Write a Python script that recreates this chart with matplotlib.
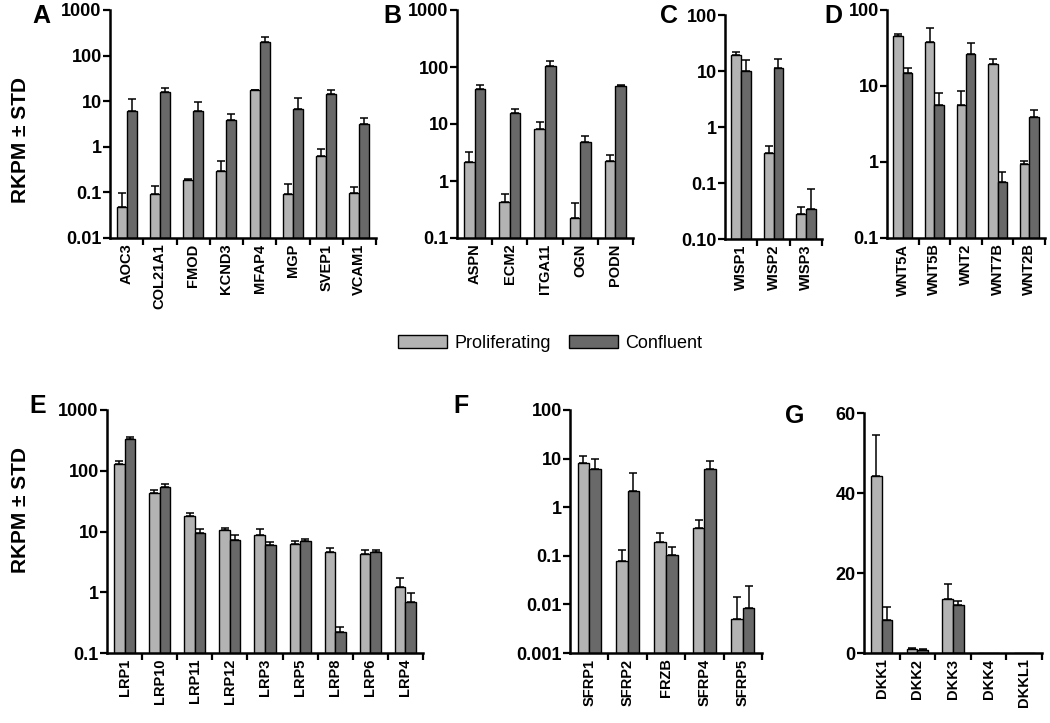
import matplotlib
matplotlib.use('Agg')
import matplotlib.pyplot as plt
from matplotlib.patches import Patch
import numpy as np

plt.rcParams['font.family'] = ['Liberation Sans', 'DejaVu Sans']

W, H = 1050, 723
LIGHT = '#b3b3b3'
DARK = '#696969'

# ---- data (RKPM, mean and upper STD) ----
a_genes = ['AOC3', 'COL21A1', 'FMOD', 'KCND3', 'MFAP4', 'MGP', 'SVEP1', 'VCAM1']
a_prolif = [0.049, 0.093, 0.183, 0.29, 17.5, 0.093, 0.635, 0.097]
a_prolif_std = [0.048, 0.042, 0.017, 0.21, 0.3, 0.062, 0.265, 0.033]
a_confl = [6.25, 15.7, 6.25, 3.9, 203, 6.8, 14.2, 3.2]
a_confl_std = [4.75, 4.2, 3.25, 1.3, 50, 4.8, 3.8, 1.1]

b_genes = ['ASPN', 'ECM2', 'ITGA11', 'OGN', 'PODN']
b_prolif = [2.15, 0.43, 8.2, 0.22, 2.2]
b_prolif_std = [1.1, 0.15, 2.8, 0.19, 0.7]
b_confl = [41, 15.3, 105, 4.9, 47]
b_confl_std = [7, 2.7, 23, 1.3, 1.0]

c_genes = ['WISP1', 'WISP2', 'WISP3']
c_prolif = [19, 0.34, 0.028]
c_prolif_std = [3, 0.12, 0.009]
c_confl = [10, 11.3, 0.034]
c_confl_std = [6, 5.2, 0.044]

d_genes = ['WNT5A', 'WNT5B', 'WNT2', 'WNT7B', 'WNT2B']
d_prolif = [45, 37.5, 5.6, 19.5, 0.93]
d_prolif_std = [3, 20, 2.9, 3.1, 0.11]
d_confl = [15, 5.6, 26.5, 0.55, 3.95]
d_confl_std = [2, 2.4, 10.5, 0.19, 0.95]

e_genes = ['LRP1', 'LRP10', 'LRP11', 'LRP12', 'LRP3', 'LRP5', 'LRP8', 'LRP6', 'LRP4']
e_prolif = [129, 42.7, 17.7, 10.4, 8.8, 6.3, 4.57, 4.24, 1.22]
e_prolif_std = [18, 5.3, 2.3, 1.2, 2.0, 0.7, 0.73, 0.66, 0.47]
e_confl = [330, 55, 9.6, 7.3, 6.0, 7.0, 0.22, 4.57, 0.69]
e_confl_std = [35, 5, 1.4, 1.3, 0.8, 0.6, 0.05, 0.43, 0.28]

f_genes = ['SFRP1', 'SFRP2', 'FRZB', 'SFRP4', 'SFRP5']
f_prolif = [8.0, 0.079, 0.188, 0.37, 0.0051]
f_prolif_std = [3.3, 0.05, 0.11, 0.18, 0.009]
f_confl = [6.0, 2.2, 0.105, 6.0, 0.0084]
f_confl_std = [4.0, 2.8, 0.05, 3.0, 0.015]

g_genes = ['DKK1', 'DKK2', 'DKK3', 'DKK4', 'DKKL1']
g_prolif = [44.3, 1.0, 13.6, 0, 0]
g_prolif_std = [10.3, 0.2, 3.7, 0, 0]
g_confl = [8.3, 0.8, 11.9, 0, 0]
g_confl_std = [3.2, 0.2, 1.2, 0, 0]

fig = plt.figure(figsize=(W / 100, H / 100), dpi=100)
fig.patch.set_facecolor('white')


def panel(box, genes, p, p_std, c, c_std, yticks, yticklabels, log=True):
    x0, y0, x1, y1 = box
    ax = fig.add_axes([x0 / W, 1 - y1 / H, (x1 - x0) / W, (y1 - y0) / H])
    n = len(genes)
    x = np.arange(n)
    w = 0.3
    for off, vals, std, col in [(-w / 2, p, p_std, LIGHT), (w / 2, c, c_std, DARK)]:
        vals = np.array(vals, dtype=float)
        std = np.array(std, dtype=float)
        ax.bar(x + off, vals, w, color=col, edgecolor='black', linewidth=1.0, zorder=2)
        m = vals > 0
        ax.errorbar(x[m] + off, vals[m], yerr=[np.zeros(m.sum()), std[m]], fmt='none',
                    ecolor='black', elinewidth=1.1, capsize=3, capthick=1.1, zorder=1)
    if log:
        ax.set_yscale('log')
    ax.set_ylim(yticks[0], yticks[-1])
    ax.set_yticks(yticks)
    ax.set_yticklabels(yticklabels, fontsize=13, fontweight='bold')
    ax.minorticks_off()
    ax.set_xlim(-0.5, n - 0.5)
    ax.set_xticks(x + 0.5)
    ax.set_xticklabels([])
    ax.set_xticks(x, minor=True)
    ax.set_xticklabels(genes, minor=True, rotation=90, fontsize=10.5, fontweight='bold')
    ax.tick_params(axis='x', which='minor', length=0, pad=4)
    ax.tick_params(axis='x', which='major', length=5, width=1.6, direction='out')
    ax.tick_params(axis='y', length=5, width=1.6, direction='out', pad=1)
    for s in ['top', 'right']:
        ax.spines[s].set_visible(False)
    for s in ['left', 'bottom']:
        ax.spines[s].set_linewidth(1.8)
    ax.set_facecolor('none')
    return ax


panel((110, 10, 376, 238), a_genes, a_prolif, a_prolif_std, a_confl, a_confl_std,
      [0.01, 0.1, 1, 10, 100, 1000], ['0.01', '0.1', '1', '10', '100', '1000'])
panel((457, 10, 633, 238), b_genes, b_prolif, b_prolif_std, b_confl, b_confl_std,
      [0.1, 1, 10, 100, 1000], ['0.1', '1', '10', '100', '1000'])
panel((725, 15, 822, 239), c_genes, c_prolif, c_prolif_std, c_confl, c_confl_std,
      [0.01, 0.1, 1, 10, 100], ['0.10', '0.1', '1', '10', '100'])
panel((887, 10, 1045, 238), d_genes, d_prolif, d_prolif_std, d_confl, d_confl_std,
      [0.1, 1, 10, 100], ['0.1', '1', '10', '100'])
panel((107, 410, 423, 653), e_genes, e_prolif, e_prolif_std, e_confl, e_confl_std,
      [0.1, 1, 10, 100, 1000], ['0.1', '1', '10', '100', '1000'])
panel((570, 410, 762, 653), f_genes, f_prolif, f_prolif_std, f_confl, f_confl_std,
      [0.001, 0.01, 0.1, 1, 10, 100], ['0.001', '0.01', '0.1', '1', '10', '100'])
panel((864, 413, 1042, 653), g_genes, g_prolif, g_prolif_std, g_confl, g_confl_std,
      [0, 20, 40, 60], ['0', '20', '40', '60'], log=False)

# panel letters
for letter, px, py in [('A', 41, 16), ('B', 392, 16), ('C', 669, 16), ('D', 833, 16),
                       ('E', 38, 406), ('F', 461, 406), ('G', 795, 416)]:
    fig.text(px / W, 1 - py / H, letter, fontsize=18, fontweight='bold', ha='center', va='center')

# y labels
for py in [140, 510]:
    fig.text(20 / W, 1 - py / H, 'RKPM \u00b1 STD', rotation=90, fontsize=15,
             fontweight='bold', ha='center', va='center')

handles = [Patch(facecolor=LIGHT, edgecolor='black', linewidth=1.0, label='Proliferating'),
           Patch(facecolor=DARK, edgecolor='black', linewidth=1.0, label='Confluent')]
fig.legend(handles=handles, loc='center', bbox_to_anchor=(550 / W, 1 - 343 / H), ncol=2,
           frameon=False, fontsize=13, handlelength=2.7, handleheight=0.75,
           handletextpad=0.4, columnspacing=1.0)

fig.savefig('out.png', dpi=100, facecolor='white')
